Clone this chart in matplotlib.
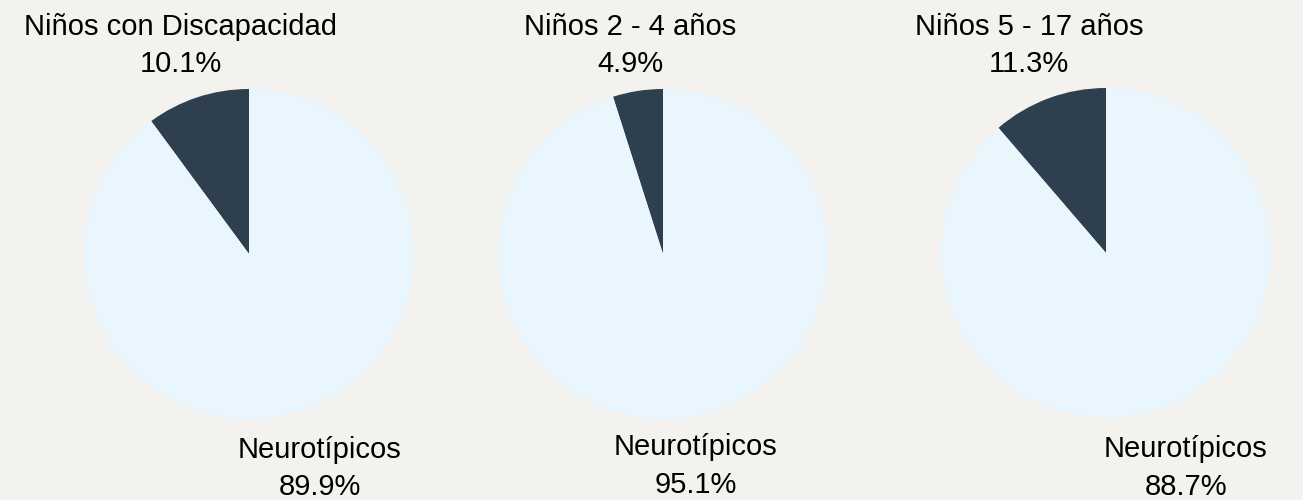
import numpy as np
import matplotlib.pyplot as plt

plt.rcParams['font.family'] = ['Liberation Sans', 'DejaVu Sans']

# Share of children with a disability, by age group
groups = ['Niños con Discapacidad', 'Niños 2 - 4 años', 'Niños 5 - 17 años']
disability_pct = [10.1, 4.9, 11.3]
typical_pct = [89.9, 95.1, 88.7]
typical_label = 'Neurotípicos'

dark = '#2e4050'
light = '#eaf6fd'
bg = '#f4f2ef'

W, H = 1303, 500
fig = plt.figure(figsize=(W / 100, H / 100), dpi=100, facecolor=bg)

# pie centres (px from left / from top), radius and label offsets
centres = [(249, 254), (663, 254), (1106, 253)]
radius = 165
label_dist = [(1.33, 1.37), (1.28, 1.30), (1.34, 1.39)]

for (cx, cy), name, d, t, ld in zip(centres, groups, disability_pct,
                                    typical_pct, label_dist):
    cyb = H - cy
    ax = fig.add_axes([(cx - radius) / W, (cyb - radius) / H,
                       2 * radius / W, 2 * radius / H])
    ax.set_facecolor('none')
    wedges, _ = ax.pie([d, t], colors=[dark, light], startangle=90,
                       counterclock=True, radius=1,
                       wedgeprops=dict(linewidth=0))
    ax.set_xlim(-1, 1)
    ax.set_ylim(-1, 1)
    ax.set_aspect('equal')
    ax.axis('off')

    labels = [f'{name}\n{d:.1f}%', f'{typical_label}\n{t:.1f}%']
    for w, lab, dist in zip(wedges, labels, ld):
        mid = np.deg2rad((w.theta1 + w.theta2) / 2)
        ax.text(dist * np.cos(mid), dist * np.sin(mid), lab,
                ha='center', va='center', fontsize=21,
                linespacing=1.42, color='black', clip_on=False)

fig.savefig('out.png', dpi=100, facecolor=bg)
